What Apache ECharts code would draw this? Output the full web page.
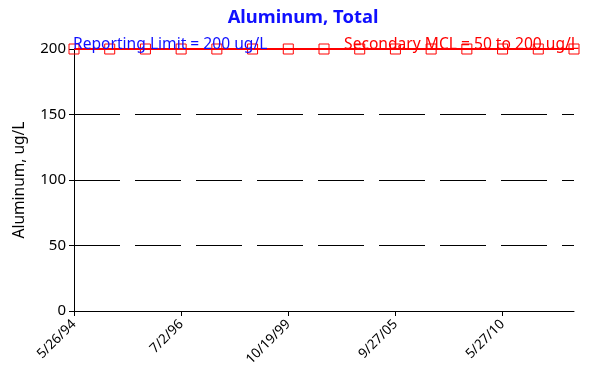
<!DOCTYPE html>
<html><head><meta charset="utf-8">
<script src="https://cdn.jsdelivr.net/npm/echarts@6/dist/echarts.min.js"></script>
<style>html,body{margin:0;padding:0;background:#fff}#c{width:589px;height:367px}</style>
</head><body><div id="c"></div>
<script>
var dates = ['5/26/94','11/15/94','8/10/95','7/2/96','3/20/97','4/8/98','10/19/99','6/14/01','8/27/03','9/27/05','4/19/07','6/3/08','5/27/10','6/8/11','5/22/12'];
var values = [200,200,200,200,200,200,200,200,200,200,200,200,200,200,200];
var yTicks = [0,50,100,150,200];
var titleText = 'Aluminum, Total';
var yName = 'Aluminum, ug/L';
var rlText = 'Reporting Limit = 200 ug/L';
var mclText = 'Secondary MCL = 50 to 200 ug/L';
var labelIdx = [0,3,6,9,12];

var chart = echarts.init(document.getElementById('c'));
var F = 'Noto Sans';
chart.setOption({
  animation:false,
  title:[
    {text:titleText,left:298,top:4,textAlign:'center',textStyle:{color:'#1010ff',fontFamily:F,fontWeight:'bold',fontSize:18.4}},
    {text:rlText,left:68,top:32,textStyle:{color:'#1010ff',fontFamily:F,fontWeight:'normal',fontSize:15.6}},
    {text:mclText,right:5,top:32,textStyle:{color:'#ff0000',fontFamily:F,fontWeight:'normal',fontSize:15.6}}
  ],
  grid:{left:74,right:15,top:49,bottom:56,containLabel:false,outerBoundsMode:'none'},
  xAxis:{type:'category',data:dates,boundaryGap:false,
    axisLine:{lineStyle:{color:'#000',width:1}},
    axisTick:{length:5,lineStyle:{color:'#000'},interval:function(i){return labelIdx.indexOf(i)>=0;}},
    axisLabel:{rotate:45,color:'#000',fontFamily:F,fontSize:13.5,margin:11,interval:function(i){return labelIdx.indexOf(i)>=0;}},
    splitLine:{show:false}},
  yAxis:{type:'value',min:yTicks[0],max:yTicks[yTicks.length-1],interval:50,
    name:yName,nameLocation:'middle',nameGap:46,nameTextStyle:{color:'#000',fontFamily:F,fontSize:15.5},
    axisLine:{show:true,lineStyle:{color:'#000'}},
    axisTick:{show:true,length:5,lineStyle:{color:'#000'}},
    axisLabel:{color:'#000',fontFamily:F,fontSize:15,margin:8},
    splitLine:{show:true,lineStyle:{color:'#000',width:1,type:[46,15]}}},
  series:[{type:'line',data:values,symbol:'rect',symbolSize:10,
    lineStyle:{color:'#ff0000',width:2},
    itemStyle:{color:'rgba(0,0,0,0)',borderColor:'#ff0000',borderWidth:1},z:5}]
});
</script></body></html>
